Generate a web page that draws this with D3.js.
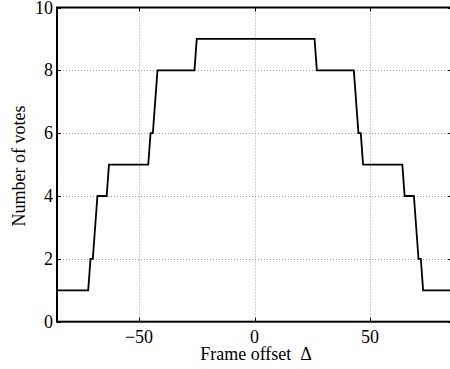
<!DOCTYPE html>
<html>
<head>
<meta charset="utf-8">
<script src="https://cdn.jsdelivr.net/npm/d3@7"></script>
<style>
  body { margin: 0; background: #fff; }
  svg text { font-family: "Liberation Serif", "Times New Roman", serif; font-size: 18px; fill: #000; }
</style>
</head>
<body>
<svg width="450" height="369"></svg>
<script>
// step curve breakpoints
const offsets = [-85.5, -72, -71, -70, -68, -64, -63, -46, -45, -44, -42, -26, -25,
                 26, 27, 43, 45, 46, 47, 64, 65, 69, 71, 72, 73, 85.5];
const votes   = [1, 1, 2, 2, 4, 4, 5, 5, 6, 6, 8, 8, 9,
                 9, 8, 8, 6, 6, 5, 5, 4, 4, 2, 2, 1, 1];
const xTicks = [-50, 0, 50];
const yTicks = [0, 2, 4, 6, 8, 10];

const svg = d3.select("svg");
const mLeft = 57, mRight = 452, mTop = 7.5, mBottom = 321.7;

const x = d3.scaleLinear().domain([-85.5, 85.5]).range([mLeft, mRight]);
const y = d3.scaleLinear().domain([0, 10]).range([mBottom, mTop]);

// grid
const grid = svg.append("g")
  .attr("stroke", "#a0a0a0")
  .attr("stroke-width", 1)
  .attr("stroke-dasharray", "1,2");
grid.selectAll(".gx").data(xTicks).enter().append("line")
  .attr("x1", d => Math.round(x(d)) + 0.5).attr("x2", d => Math.round(x(d)) + 0.5)
  .attr("y1", mTop).attr("y2", mBottom);
grid.selectAll(".gy").data(yTicks.filter(d => d > 0 && d < 10)).enter().append("line")
  .attr("y1", d => Math.round(y(d)) + 0.5).attr("y2", d => Math.round(y(d)) + 0.5)
  .attr("x1", mLeft).attr("x2", mRight);

// inward ticks on all sides
const tk = svg.append("g").attr("stroke", "#000").attr("stroke-width", 1);
xTicks.forEach(d => {
  const px = Math.round(x(d)) + 0.5;
  tk.append("line").attr("x1", px).attr("x2", px).attr("y1", mBottom).attr("y2", mBottom - 4);
  tk.append("line").attr("x1", px).attr("x2", px).attr("y1", mTop).attr("y2", mTop + 4);
});
yTicks.forEach(d => {
  const py = Math.round(y(d)) + 0.5;
  tk.append("line").attr("x1", mLeft).attr("x2", mLeft + 4).attr("y1", py).attr("y2", py);
  tk.append("line").attr("x1", mRight).attr("x2", mRight - 4).attr("y1", py).attr("y2", py);
});

// data line
const line = d3.line()
  .x((d, i) => x(offsets[i]))
  .y(d => y(d));
svg.append("path")
  .datum(votes)
  .attr("d", line)
  .attr("fill", "none")
  .attr("stroke", "#000")
  .attr("stroke-width", 1.8);

// axes box
svg.append("rect")
  .attr("x", mLeft).attr("y", mTop)
  .attr("width", mRight - mLeft).attr("height", mBottom - mTop)
  .attr("fill", "none").attr("stroke", "#000").attr("stroke-width", 2);

// tick labels
svg.selectAll(".xl").data(xTicks).enter().append("text")
  .attr("x", d => x(d)).attr("y", 343)
  .attr("text-anchor", "middle")
  .text(d => d < 0 ? "\u2212" + Math.abs(d) : d);
svg.selectAll(".yl").data(yTicks).enter().append("text")
  .attr("x", 53).attr("y", d => y(d) + 6)
  .attr("text-anchor", "end")
  .text(d => d);

// axis titles
svg.append("text")
  .attr("x", 256).attr("y", 360)
  .attr("text-anchor", "middle")
  .style("white-space", "pre")
  .text("Frame offset  \u0394");
svg.append("text")
  .attr("transform", "translate(25,166) rotate(-90)")
  .attr("text-anchor", "middle")
  .text("Number of votes");
</script>
</body>
</html>
